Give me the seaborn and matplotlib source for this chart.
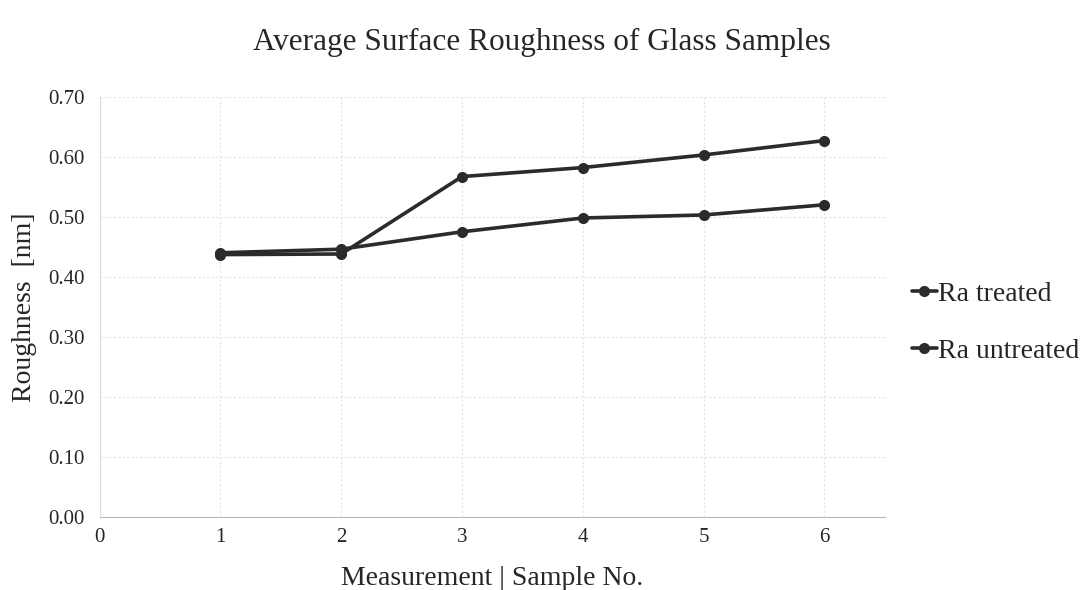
import pandas as pd
import matplotlib.pyplot as plt
import seaborn as sns

# -----------------------------
# Data
# -----------------------------
samples = [1, 2, 3, 4, 5, 6]
ra_treated = [0.437, 0.438, 0.567, 0.582, 0.603, 0.627]
ra_untreated = [0.440, 0.446, 0.475, 0.498, 0.503, 0.520]

df = pd.DataFrame({
    "sample": samples * 2,
    "roughness": ra_treated + ra_untreated,
    "series": ["Ra treated"] * 6 + ["Ra untreated"] * 6,
})

sns.set_style("white")
plt.rcParams["font.family"] = ["Liberation Serif", "DejaVu Serif"]

fig = plt.figure(figsize=(10.83, 5.9), dpi=100)
ax = fig.add_axes([0.092, 0.124, 0.725, 0.712])

sns.lineplot(
    data=df,
    x="sample",
    y="roughness",
    hue="series",
    palette=["#2b2b2b", "#2b2b2b"],
    marker="o",
    markersize=8,
    markeredgewidth=0,
    linewidth=2.6,
    ax=ax,
)

ax.set_xlim(0, 6.5)
ax.set_ylim(0, 0.70)
ax.set_xticks(range(0, 7))
ax.set_yticks([i / 10 for i in range(8)])
ax.set_yticklabels([f"{i / 10:.2f}" for i in range(8)])
ax.tick_params(axis="y", labelsize=15, length=0, pad=11)
ax.tick_params(axis="x", labelsize=15, length=0, pad=8)

ax.grid(True, color="#e2e2e2", linestyle=(0, (2, 2)), linewidth=0.8)
for side in ["top", "right"]:
    ax.spines[side].set_visible(False)
ax.spines["left"].set_color("#dddddd")
ax.spines["left"].set_linewidth(0.8)
ax.spines["bottom"].set_color("#bbbbbb")
ax.spines["bottom"].set_linewidth(0.8)

ax.set_xlabel("Measurement | Sample No.", fontsize=20, labelpad=14)
ax.set_ylabel("Roughness  [nm]", fontsize=20, labelpad=8)
fig.suptitle("Average Surface Roughness of Glass Samples", fontsize=22.5, y=0.953)

ax.legend(
    loc="center left",
    bbox_to_anchor=(1.034, 0.462),
    borderaxespad=0,
    borderpad=0,
    frameon=False,
    fontsize=20,
    handlelength=0.9,
    handletextpad=0.05,
    labelspacing=1.15,
    title=None,
)

plt.savefig("out.png", dpi=100)
plt.close()
